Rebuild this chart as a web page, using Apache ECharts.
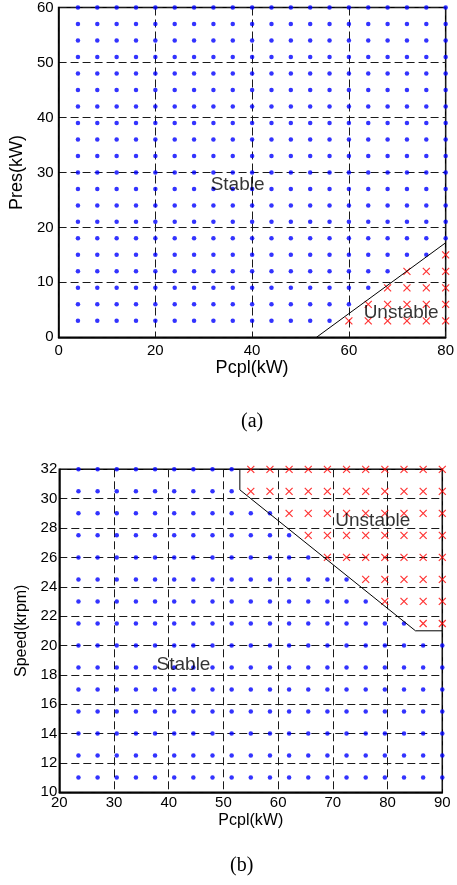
<!DOCTYPE html>
<html>
<head>
<meta charset="utf-8">
<script src="https://cdn.jsdelivr.net/npm/echarts@6/dist/echarts.min.js"></script>
<style>
html,body{margin:0;padding:0;background:#fff;}
#c{width:457px;height:885px;}
</style>
</head>
<body>
<div id="c"></div>
<script>
// ---------- Chart (a) ----------
const pcplA = [4,8,12,16,20,24,28,32,36,40,44,48,52,56,60,64,68,72,76,80];
const presA = [3,6,9,12,15,18,21,24,27,30,33,36,39,42,45,48,51,54,57,60];
const unstableA = [
  [60,3],[64,3],[68,3],[72,3],[76,3],[80,3],
  [64,6],[68,6],[72,6],[76,6],[80,6],
  [68,9],[72,9],[76,9],[80,9],
  [72,12],[76,12],[80,12],
  [80,15]
];
const boundaryA = [[53.3,0],[80,17.2]];
const xTicksA = [0,20,40,60,80];
const yTicksA = [0,10,20,30,40,50,60];
const labelsA = [{name:'Stable', value:[37,27.7]},{name:'Unstable', value:[70.8,4.5]}];

// ---------- Chart (b) ----------
const pcplB = [23.5,27,30.5,34,37.5,41,44.5,48,51.5,55,58.5,62,65.5,69,72.5,76,79.5,83,86.5,90];
const speedB = [11,12.5,14,15.5,17,18.5,20,21.5,23,24.5,26,27.5,29,30.5,32];
const unstableB = [
  [55,32],[58.5,32],[62,32],[65.5,32],[69,32],[72.5,32],[76,32],[79.5,32],[83,32],[86.5,32],[90,32],
  [55,30.5],[58.5,30.5],[62,30.5],[65.5,30.5],[69,30.5],[72.5,30.5],[76,30.5],[79.5,30.5],[83,30.5],[86.5,30.5],[90,30.5],
  [62,29],[65.5,29],[69,29],[72.5,29],[76,29],[79.5,29],[83,29],[86.5,29],[90,29],
  [65.5,27.5],[69,27.5],[72.5,27.5],[76,27.5],[79.5,27.5],[83,27.5],[86.5,27.5],[90,27.5],
  [69,26],[72.5,26],[76,26],[79.5,26],[83,26],[86.5,26],[90,26],
  [76,24.5],[79.5,24.5],[83,24.5],[86.5,24.5],[90,24.5],
  [79.5,23],[83,23],[86.5,23],[90,23],
  [86.5,21.5],[90,21.5]
];
const boundaryB = [[53,32],[53,30.6],[85.1,21],[90,21]];
const xTicksB = [20,30,40,50,60,70,80,90];
const yTicksB = [10,12,14,16,18,20,22,24,26,28,30,32];
const labelsB = [{name:'Stable', value:[42.7,18.67]},{name:'Unstable', value:[77.3,28.5]}];

// ---------- helpers ----------
function isIn(list, x, y){ return list.some(p => p[0]===x && p[1]===y); }
function stablePts(xs, ys, uns){
  const out = [];
  ys.forEach(y => xs.forEach(x => { if(!isIn(uns,x,y)) out.push([x,y]); }));
  return out;
}
const FONT = 'Liberation Sans, Arial, Helvetica, sans-serif';
const CROSS = 'path://M0,0L10,10M10,0L0,10';
const gridLine = {show:true, lineStyle:{color:'#1a1a1a', width:1, type:[8,4]}};

function xAxisCfg(idx, ticks, name, gap, nameSize){
  return {
    type:'value', gridIndex:idx, min:ticks[0], max:ticks[ticks.length-1],
    interval:ticks[1]-ticks[0],
    axisLine:{show:true, onZero:false, lineStyle:{color:'#000', width:1.5}},
    axisTick:{show:false},
    axisLabel:{color:'#000', fontFamily:FONT, fontSize:15, margin:idx===0?6:3},
    splitLine:gridLine,
    name:name, nameLocation:'middle', nameGap:gap,
    nameTextStyle:{color:'#000', fontFamily:FONT, fontSize:nameSize}
  };
}
function yAxisCfg(idx, ticks, name, gap, nameSize){
  return {
    type:'value', gridIndex:idx, min:ticks[0], max:ticks[ticks.length-1],
    interval:ticks[1]-ticks[0],
    axisLine:{show:true, onZero:false, lineStyle:{color:'#000', width:1.5}},
    axisTick:{show:false},
    axisLabel:{color:'#000', fontFamily:FONT, fontSize:15, margin:idx===0?5:2},
    splitLine:gridLine,
    name:name, nameLocation:'middle', nameGap:gap, nameRotate:90,
    nameTextStyle:{color:'#000', fontFamily:FONT, fontSize:nameSize}
  };
}
function dotSeries(idx, data){
  return {type:'scatter', xAxisIndex:idx, yAxisIndex:idx, data:data, symbol:'circle',
    symbolSize:4.5, clip:false, itemStyle:{color:'#0000ff'}, z:3, silent:true};
}
function crossSeries(idx, data){
  return {type:'scatter', xAxisIndex:idx, yAxisIndex:idx, data:data, symbol:CROSS,
    symbolSize:7, clip:false, itemStyle:{color:'transparent', borderColor:'#ff0000', borderWidth:1.2}, z:3, silent:true};
}
function lineSeries(idx, data){
  return {type:'line', xAxisIndex:idx, yAxisIndex:idx, data:data, showSymbol:false, symbol:'none',
    clip:false, lineStyle:{color:'#000', width:1}, z:4, silent:true, animation:false};
}
function textSeries(idx, data){
  return {type:'scatter', xAxisIndex:idx, yAxisIndex:idx, data:data, symbolSize:1, clip:false,
    itemStyle:{color:'transparent'}, z:5, silent:true,
    label:{show:true, position:'inside', formatter:'{b}', color:'#000', fontFamily:FONT, fontSize:19}};
}

const chart = echarts.init(document.getElementById('c'), null, {renderer:'canvas'});
chart.setOption({
  animation:false,
  backgroundColor:'#fff',
  grid:[
    {left:54.7, top:7.3, width:393, height:330, show:true, borderColor:'#000', borderWidth:1.5, backgroundColor:'transparent'},
    {left:59.3, top:469.3, width:383, height:323, show:true, borderColor:'#000', borderWidth:1.5, backgroundColor:'transparent'}
  ],
  xAxis:[ xAxisCfg(0, xTicksA, 'Pcpl(kW)', 22, 18), xAxisCfg(1, xTicksB, 'Pcpl(kW)', 20, 16) ],
  yAxis:[ yAxisCfg(0, yTicksA, 'Pres(kW)', 30, 18), yAxisCfg(1, yTicksB, 'Speed(krpm)', 26, 16) ],
  graphic:[
    {type:'text', left:241, top:412, style:{text:'(a)', fill:'#000', font:'20px "Liberation Serif", "Times New Roman", serif'}},
    {type:'text', left:230, top:856, style:{text:'(b)', fill:'#000', font:'20px "Liberation Serif", "Times New Roman", serif'}}
  ],
  series:[
    dotSeries(0, stablePts(pcplA, presA, unstableA)),
    crossSeries(0, unstableA),
    lineSeries(0, boundaryA),
    textSeries(0, labelsA),
    dotSeries(1, stablePts(pcplB, speedB, unstableB)),
    crossSeries(1, unstableB),
    lineSeries(1, boundaryB),
    textSeries(1, labelsB)
  ]
});
</script>
</body>
</html>
